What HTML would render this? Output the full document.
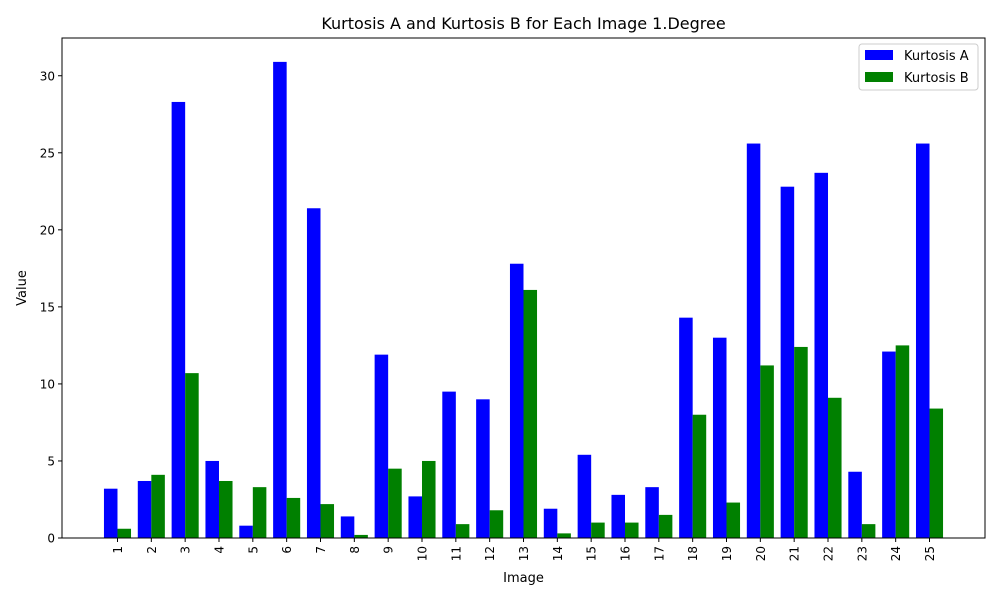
<!DOCTYPE html>
<html><head><meta charset="utf-8"><style>
body{margin:0;background:#fff;font-family:"Liberation Sans","DejaVu Sans",sans-serif;}
svg text{font-family:"DejaVu Sans","Liberation Sans",sans-serif;}
</style></head><body>
<svg id="chart" width="1000" height="600" xmlns="http://www.w3.org/2000/svg">
<rect width="1000" height="600" fill="#fff"/>
<text x="523.5" y="29" font-size="16" text-anchor="middle">Kurtosis A and Kurtosis B for Each Image 1.Degree</text>
<g id="bars"></g>
<g id="axes"></g>
<rect x="62" y="38" width="923" height="500" fill="none" stroke="#000" stroke-width="1"/>
<text x="523.5" y="582" font-size="13" text-anchor="middle">Image</text>
<text transform="translate(26,288) rotate(-90)" font-size="13" text-anchor="middle">Value</text>
<g>
<rect x="859" y="44" width="119" height="46" fill="#fff" stroke="#ccc" rx="3"/>
<rect x="865" y="50" width="28" height="10" fill="#0000ff"/>
<text x="904" y="60" font-size="13">Kurtosis A</text>
<rect x="865" y="72" width="28" height="10" fill="#008000"/>
<text x="904" y="82" font-size="13">Kurtosis B</text>
</g>
</svg>
<script>
const categories = ["1","2","3","4","5","6","7","8","9","10","11","12","13","14","15","16","17","18","19","20","21","22","23","24","25"];
const kurtosisA = [3.2,3.7,28.3,5.0,0.8,30.9,21.4,1.4,11.9,2.7,9.5,9.0,17.8,1.9,5.4,2.8,3.3,14.3,13.0,25.6,22.8,23.7,4.3,12.1,25.6];
const kurtosisB = [0.6,4.1,10.7,3.7,3.3,2.6,2.2,0.2,4.5,5.0,0.9,1.8,16.1,0.3,1.0,1.0,1.5,8.0,2.3,11.2,12.4,9.1,0.9,12.5,8.4];
const yTicks = [0,5,10,15,20,25,30];

const NS="http://www.w3.org/2000/svg";
const L=62,R=985,T=38,B=538;
const xmin=-1.64,xmax=categories.length-1+1.64;
const ymax=32.45;
function xs(v){return L+(v-xmin)/(xmax-xmin)*(R-L);}
function ys(v){return B-v/ymax*(B-T);}
const bars=document.getElementById('bars'),axes=document.getElementById('axes');
function mk(tag,attrs,parent){const e=document.createElementNS(NS,tag);for(const k in attrs)e.setAttribute(k,attrs[k]);parent.appendChild(e);return e;}
const w=0.4;
categories.forEach((c,i)=>{
  const a=mk('rect',{x:xs(i-w),y:ys(kurtosisA[i]),width:xs(i)-xs(i-w),height:ys(0)-ys(kurtosisA[i]),fill:'#0000ff'},bars);
  
  
  const b=mk('rect',{x:xs(i),y:ys(kurtosisB[i]),width:xs(i+w)-xs(i),height:ys(0)-ys(kurtosisB[i]),fill:'#008000'},bars);
  
  
  mk('line',{x1:xs(i),x2:xs(i),y1:B,y2:B+4,stroke:'#000'},axes);
  const t=mk('text',{transform:`translate(${xs(i)+4.5},${B+8}) rotate(-90)`,'font-size':12,'text-anchor':'end'},axes);
  t.textContent=c;
  
  
});
yTicks.forEach(v=>{
  mk('line',{x1:L-4,x2:L,y1:ys(v),y2:ys(v),stroke:'#000'},axes);
  const t=mk('text',{x:L-7,y:ys(v)+4.5,'font-size':12,'text-anchor':'end'},axes);
  t.textContent=v;
  
  
});
</script>
</body></html>
